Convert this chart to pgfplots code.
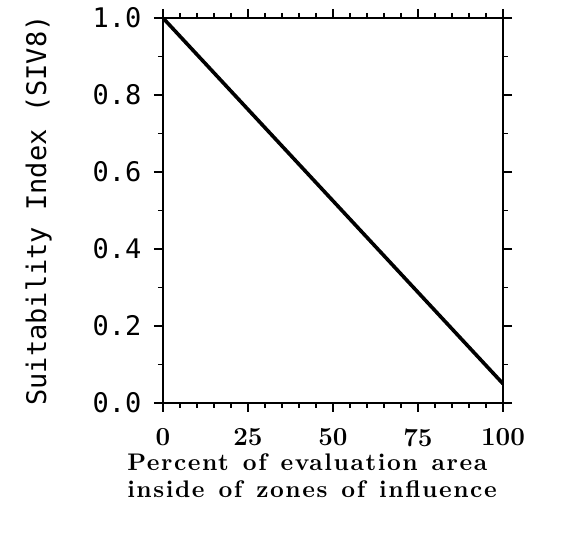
\documentclass[border=0pt]{standalone}
\usepackage{fontspec}
\usepackage{pgfplots}
\pgfplotsset{compat=1.18}
\newfontfamily\ymono{DejaVu Sans Mono}
\newfontfamily\xlab[Extension=.otf, LetterSpace=6.5, WordSpace=1.3]{lmroman10-bold}
\begin{document}
\begin{tikzpicture}
\useasboundingbox (-163pt,-132pt) rectangle (416pt,403pt);
\begin{axis}[
  at={(0,0)}, anchor=origin,
  width=340pt, height=385pt, scale only axis,
  xmin=0, xmax=100, ymin=0, ymax=1,
  xtick={0,25,50,75,100},
  minor xtick={5,10,15,20,30,35,40,45,55,60,65,70,80,85,90,95},
  ytick={0,0.2,0.4,0.6,0.8,1.0},
  minor ytick={0.1,0.3,0.5,0.7,0.9},
  tick align=outside,
  axis line style={line width=2.8pt},
  major tick length=9pt, minor tick length=5pt,
  every tick/.style={black, line width=1.8pt},
  /pgf/number format/assume math mode=true,
  yticklabel style={font=\fontsize{27}{29}\selectfont\ymono, xshift=-9pt, /pgf/number format/.cd, fixed, fixed zerofill, precision=1},
  xticklabel style={font=\fontsize{26}{28}\selectfont\bfseries, yshift=-13pt},
  xlabel={\begin{tabular}{@{}l@{}}Percent of evaluation area\\[-1pt]inside of zones of influence\end{tabular}},
  xlabel style={font=\fontsize{24}{28}\selectfont\xlab, yshift=2pt, xshift=-21pt},
  ylabel={Suitability Index (SIV8)},
  ylabel style={font=\fontsize{27}{29}\selectfont\ymono, yshift=34pt},
]
\addplot[black, line width=3.6pt] coordinates {(0,1.0) (100,0.05)};
\end{axis}
\end{tikzpicture}
\end{document}
